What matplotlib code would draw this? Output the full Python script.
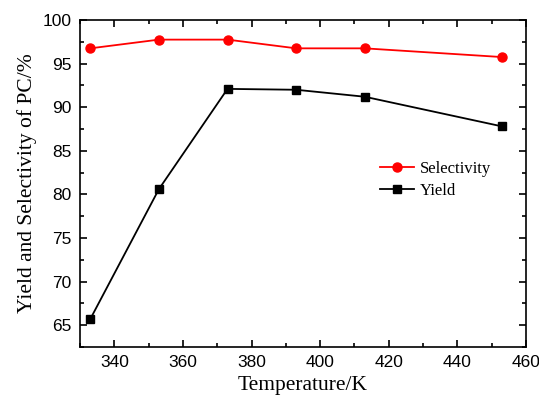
import matplotlib
matplotlib.use('Agg')
import matplotlib.pyplot as plt
from matplotlib.ticker import MultipleLocator

temperature = [333, 353, 373, 393, 413, 453]
selectivity = [96.75, 97.75, 97.75, 96.75, 96.75, 95.75]
yield_pc = [65.7, 80.6, 92.1, 92.0, 91.2, 87.8]

fig = plt.figure(figsize=(5.39, 4.0), dpi=100)
ax = fig.add_axes([0.1484, 0.1325, 0.8275, 0.8175])

ax.plot(temperature, selectivity, color='#ff0000', marker='o', markersize=6.5,
        linewidth=1.3, label='Selectivity')
ax.plot(temperature, yield_pc, color='black', marker='s', markersize=5.5,
        linewidth=1.3, label='Yield')

ax.set_xlim(330, 460)
ax.set_ylim(62.5, 100)
ax.xaxis.set_major_locator(MultipleLocator(20))
ax.xaxis.set_minor_locator(MultipleLocator(10))
ax.yaxis.set_major_locator(MultipleLocator(5))
ax.yaxis.set_minor_locator(MultipleLocator(2.5))
ax.tick_params(which='both', direction='in', top=True, right=True, width=1.2)
ax.tick_params(which='major', length=5, labelsize=12.5, pad=6)
ax.tick_params(which='minor', length=3)
for lab in ax.get_xticklabels() + ax.get_yticklabels():
    lab.set_family('Liberation Sans')
for s in ax.spines.values():
    s.set_linewidth(1.2)

ax.set_xlabel('Temperature/K', family='Liberation Serif', fontsize=15.5, labelpad=4)
ax.set_ylabel('Yield and Selectivity of PC/%', family='Liberation Serif', fontsize=15.5, labelpad=4)

ax.legend(loc='center left', bbox_to_anchor=(0.64, 0.51), frameon=False,
          prop={'family': 'Liberation Serif', 'size': 12}, handlelength=2.0,
          handletextpad=0.35, labelspacing=0.35)

fig.savefig('out.png', dpi=100)
